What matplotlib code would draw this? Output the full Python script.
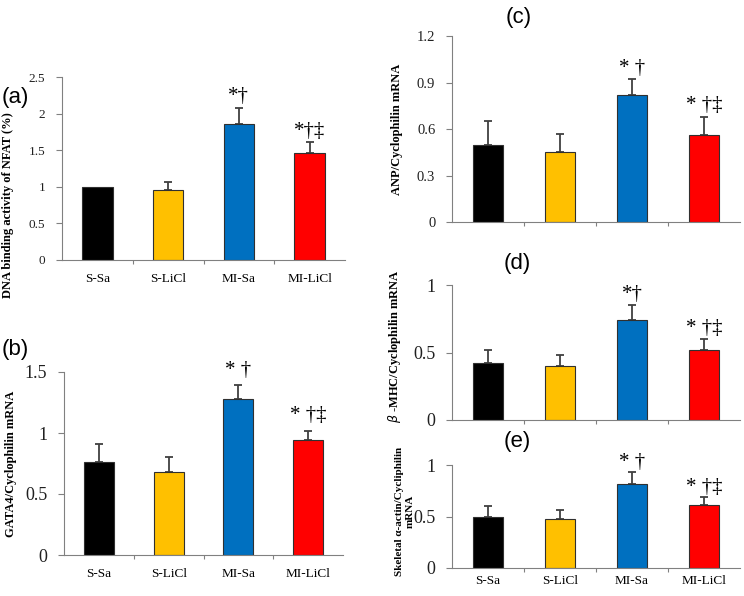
import matplotlib
matplotlib.use("Agg")
import matplotlib.pyplot as plt

# groups and colours
groups = ["S-Sa", "S-LiCl", "MI-Sa", "MI-LiCl"]
colors = ["#000000", "#FFC000", "#0070C0", "#FF0000"]

# values (mean, SE)
nfat = [1.00, 0.96, 1.86, 1.46]
nfat_err = [0.0, 0.11, 0.22, 0.15]
gata4 = [0.76, 0.68, 1.28, 0.94]
gata4_err = [0.15, 0.12, 0.11, 0.08]
anp = [0.50, 0.45, 0.82, 0.56]
anp_err = [0.15, 0.12, 0.10, 0.12]
bmhc = [0.42, 0.40, 0.74, 0.52]
bmhc_err = [0.10, 0.08, 0.11, 0.08]
actin = [0.50, 0.48, 0.82, 0.61]
actin_err = [0.10, 0.08, 0.11, 0.08]

marks = ["", "", "*†", "*†‡"]
marks_sp = ["", "", "* †", "* †‡"]
marks_d = ["", "", "*†", "* †‡"]

plt.rcParams['font.family'] = ['Liberation Serif', 'DejaVu Serif']

W, H = 744, 596
fig = plt.figure(figsize=(W / 100, H / 100), dpi=100)


def px_axes(x0, x1, ytop, ybot):
    return fig.add_axes([x0 / W, 1 - ybot / H, (x1 - x0) / W, (ybot - ytop) / H])


def bar_panel(ax, vals, errs, ymax, yticks, ylabel, tick_fs, lab_fs, labels_on,
              ann, ann_fs, ann_off):
    x = range(len(groups))
    ax.bar(x, vals, width=0.43, color=colors, edgecolor="#303030", linewidth=0.8, zorder=2)
    for i in x:
        if errs[i] > 0:
            ax.errorbar(i, vals[i], yerr=[[0], [errs[i]]], fmt="none", ecolor="#404040",
                        elinewidth=1.3, capsize=3, capthick=1.3, zorder=1)
        if ann[i]:
            ax.annotate(ann[i], (i, vals[i] + errs[i]), xytext=(0, ann_off),
                        textcoords="offset points", ha="center", va="bottom",
                        fontsize=ann_fs)
    ax.set_xlim(-0.5, 3.5)
    ax.set_ylim(0, ymax)
    ax.set_yticks(yticks)
    ax.set_yticklabels([f"{t:g}" for t in yticks], fontsize=tick_fs, color="#202020")
    ax.set_xticks([0.5, 1.5, 2.5])
    ax.set_xticklabels([])
    ax.tick_params(axis="x", length=3, color="#808080")
    ax.tick_params(axis="y", length=4, color="#808080", pad=8)
    if labels_on:
        for i, g in enumerate(groups):
            ax.text(i, -0.07, g, transform=ax.get_xaxis_transform(), ha="center",
                    va="top", fontsize=9.5)
    for s in ["top", "right"]:
        ax.spines[s].set_visible(False)
    for s in ["left", "bottom"]:
        ax.spines[s].set_color("#808080")
    ax.set_ylabel(ylabel, fontsize=lab_fs, fontweight="bold")


# (a)
ax_a = px_axes(62, 345, 77, 260)
bar_panel(ax_a, nfat, nfat_err, 2.5, [0, 0.5, 1, 1.5, 2, 2.5],
          "DNA binding activity of NFAT (%)", 9.5, 9, True, marks, 15, 1)
ax_a.yaxis.set_label_coords(-0.17, 0.3)

# (b)
ax_b = px_axes(64, 343, 372, 555)
bar_panel(ax_b, gata4, gata4_err, 1.5, [0, 0.5, 1, 1.5],
          "GATA4/Cyclophilin mRNA", 13, 9, True, marks_sp, 15, 4)
ax_b.yaxis.set_label_coords(-0.17, 0.5)

# (c)
ax_c = px_axes(452, 740, 36, 222)
bar_panel(ax_c, anp, anp_err, 1.2, [0, 0.3, 0.6, 0.9, 1.2],
          "ANP/Cyclophilin mRNA", 10.5, 9, False, marks_sp, 15, 1)
ax_c.yaxis.set_label_coords(-0.17, 0.5)

# (d)
ax_d = px_axes(452, 740, 285, 420)
bar_panel(ax_d, bmhc, bmhc_err, 1, [0, 0.5, 1],
          r"$\beta$ -MHC/Cyclophilin mRNA", 13, 9, False, marks_d, 15, 1)
ax_d.yaxis.set_label_coords(-0.17, 0.55)

# (e)
ax_e = px_axes(452, 740, 465, 568)
bar_panel(ax_e, actin, actin_err, 1, [0, 0.5, 1],
          "Skeletal α-actin/Cycliphilin\nmRNA", 13, 8, True, marks_sp, 15, 0)
ax_e.yaxis.set_label_coords(-0.13, 0.55)

# panel letters
for lab, xp, yp in [("(a)", 2, 98), ("(b)", 2, 350), ("(c)", 506, 17),
                    ("(d)", 504, 263), ("(e)", 504, 442)]:
    fig.text(xp / W, 1 - yp / H, lab, fontsize=16, family="Liberation Sans",
             va="center", ha="left")

fig.savefig("out.png", dpi=100)
